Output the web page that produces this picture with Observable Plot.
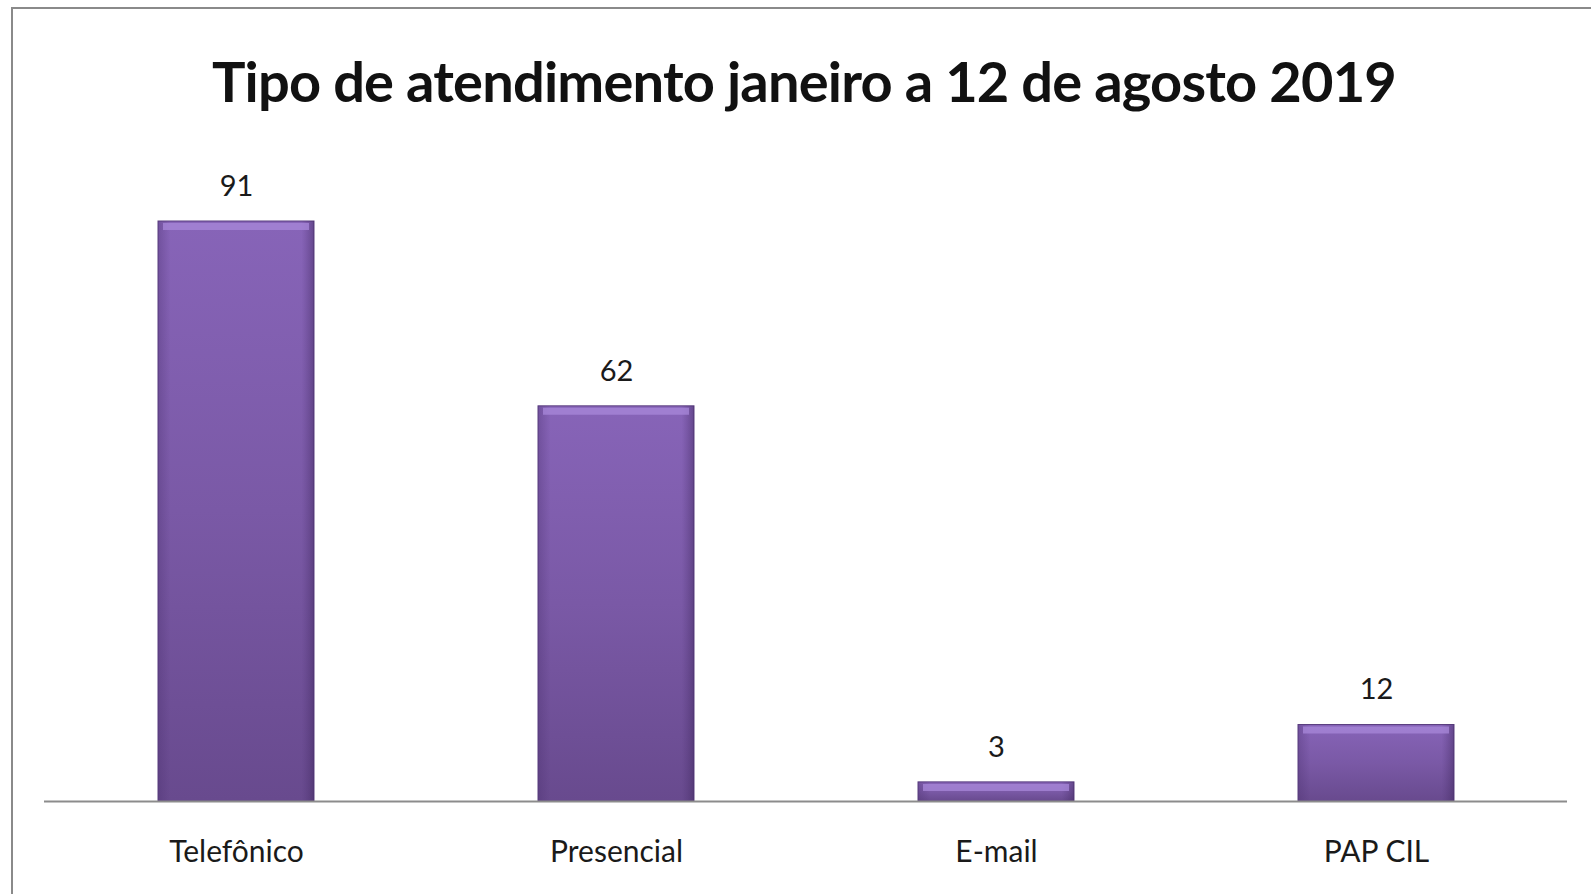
<!DOCTYPE html>
<html>
<head>
<meta charset="utf-8">
<script src="https://cdn.jsdelivr.net/npm/d3@7"></script>
<script src="https://cdn.jsdelivr.net/npm/@observablehq/plot@0.6"></script>
<style>
  html, body { margin: 0; padding: 0; background: #fff; }
  body { width: 1591px; height: 894px; position: relative; overflow: hidden; font-family: Lato, "Open Sans", sans-serif; }
  #frame { position: absolute; left: 11px; top: 7px; width: 1620px; height: 940px; border: 2px solid #8a8a8a; box-sizing: border-box; }
  #title { position: absolute; left: 0; width: 1608px; top: 44px; text-align: center; font-family: Lato, sans-serif; font-weight: 700; font-size: 56px; letter-spacing: -0.8px; line-height: 74px; color: #111; white-space: nowrap; }
  #chart { position: absolute; left: 0; top: 120px; }
</style>
</head>
<body>
<div id="frame"></div>
<div id="title">Tipo de atendimento janeiro a 12 de agosto 2019</div>
<div id="chart"></div>
<script>
const categories = ["Telefônico", "Presencial", "E-mail", "PAP CIL"];
const values = [91, 62, 3, 12];

const data = categories.map((c, i) => ({category: c, value: values[i]}));

const plot = Plot.plot({
  width: 1591,
  height: 774,
  marginTop: 101,
  marginBottom: 93,
  marginLeft: 44,
  marginRight: 24,
  style: {background: "transparent", fontFamily: "Lato, sans-serif", color: "#1a1a1a"},
  x: {domain: categories, paddingInner: 0.59, paddingOuter: 0.295, axis: null},
  y: {domain: [0, 91], axis: null},
  marks: [
    Plot.barY(data, {x: "category", y: "value", fill: "url(#barGrad)", stroke: "#5b3f80", strokeWidth: 1}),
    Plot.barY(data, {x: "category", y: "value", fill: "url(#sideGrad)"}),
    Plot.tickY(data, {x: "category", y: "value", stroke: "#a888da", strokeWidth: 7, dy: 5, inset: 5, strokeOpacity: 0.75}),
    Plot.ruleY([0], {stroke: "#8c8c8c", strokeWidth: 2}),
    Plot.text(data, {x: "category", y: "value", text: d => String(d.value), dy: -35, lineAnchor: "middle", fontSize: 29, fill: "#1a1a1a"}),
    Plot.text(data, {x: "category", text: "category", frameAnchor: "bottom", dy: 51, lineAnchor: "middle", fontSize: 30, fill: "#1a1a1a"})
  ]
});

const svg = d3.select(plot);
const defs = svg.insert("defs", ":first-child");
const g1 = defs.append("linearGradient").attr("id", "barGrad").attr("x1", 0).attr("y1", 0).attr("x2", 0).attr("y2", 1);
g1.append("stop").attr("offset", "0%").attr("stop-color", "#8764b8");
g1.append("stop").attr("offset", "50%").attr("stop-color", "#7a59a6");
g1.append("stop").attr("offset", "100%").attr("stop-color", "#684a8e");
const g2 = defs.append("linearGradient").attr("id", "sideGrad").attr("x1", 0).attr("y1", 0).attr("x2", 1).attr("y2", 0);
g2.append("stop").attr("offset", "0%").attr("stop-color", "#4a2f6e").attr("stop-opacity", 0.35);
g2.append("stop").attr("offset", "8%").attr("stop-color", "#4a2f6e").attr("stop-opacity", 0);
g2.append("stop").attr("offset", "92%").attr("stop-color", "#4a2f6e").attr("stop-opacity", 0);
g2.append("stop").attr("offset", "100%").attr("stop-color", "#3a2358").attr("stop-opacity", 0.45);

document.getElementById("chart").appendChild(plot);
</script>
</body>
</html>
